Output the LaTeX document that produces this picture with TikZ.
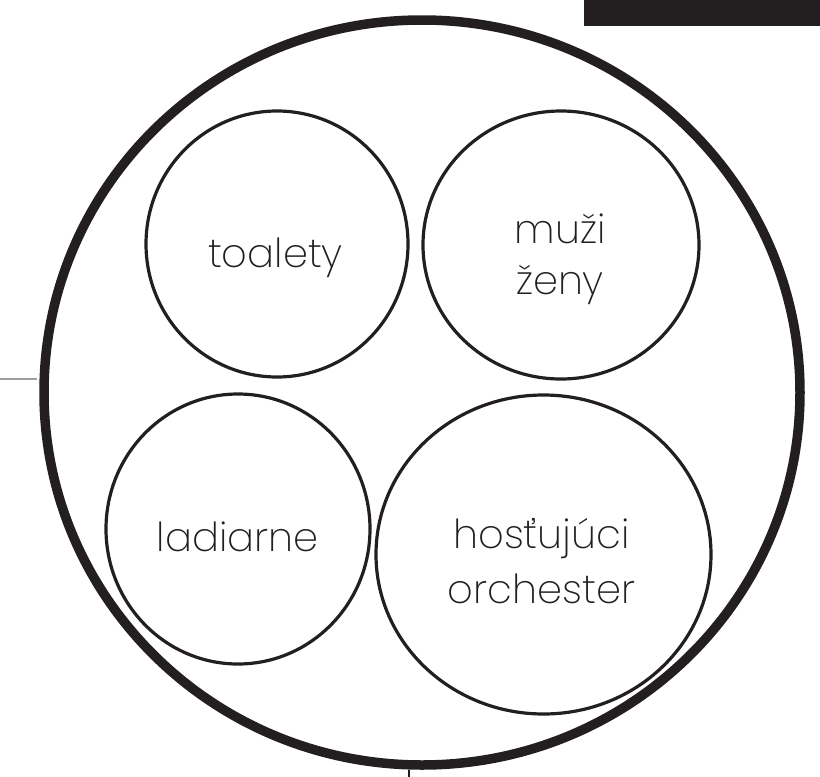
\documentclass[tikz,border=0pt]{standalone}
\usepackage{fontspec}
\newfontfamily\lblfont{Poppins ExtraLight}
\usetikzlibrary{shapes.geometric}
\definecolor{ink}{HTML}{231F20}
\definecolor{rule}{HTML}{9D9D9D}
\tikzset{
  outerring/.style={draw=ink, line width=9.5pt, shape=ellipse, inner sep=0pt},
  room/.style={draw=ink, line width=3.2pt, shape=ellipse, inner sep=0pt},
  lbl/.style={anchor=base, text=ink, inner sep=0pt, font=\lblfont\fontsize{40}{48}\selectfont}
}
\begin{document}
\begin{tikzpicture}[x=1pt,y=-1pt]
\useasboundingbox (0,0) rectangle (820,777);
% black bar top right
\fill[ink] (584,0) rectangle (820,26);
% big outer ring
\node[outerring, minimum width=756pt, minimum height=745pt] (hall) at (422,392.5) {};
% inner rooms
\node[room, minimum width=262pt, minimum height=266pt] (toal) at (277,244) {};
\node[room, minimum width=276pt, minimum height=268pt] (muzi) at (561,245) {};
\node[room, minimum width=264pt, minimum height=270pt] (ladi) at (238,529) {};
\node[room, minimum width=335pt, minimum height=319pt] (host) at (543.5,554.5) {};
% labels
\node[lbl] (t1) at (275.5,267) {toalety};
\node[lbl] (m1) at (560,243) {muži};
\node[lbl] (m2) at (560,294) {ženy};
\node[lbl] (l1) at (237.5,551) {ladiarne};
\node[lbl] (h1) at (541.5,548) {hosťujúci};
\node[lbl] (h2) at (541.5,603) {orchester};
% side marks
\coordinate (gl) at (0,378.7);
\coordinate (gr) at (37,378.7);
\draw[rule, line width=2pt] (gl) -- (gr);
\coordinate (vb) at (409,777);
\draw[ink, line width=2pt] (hall.south) ++(-13,0) coordinate (vt) -- (vt |- vb);
\end{tikzpicture}
\end{document}
